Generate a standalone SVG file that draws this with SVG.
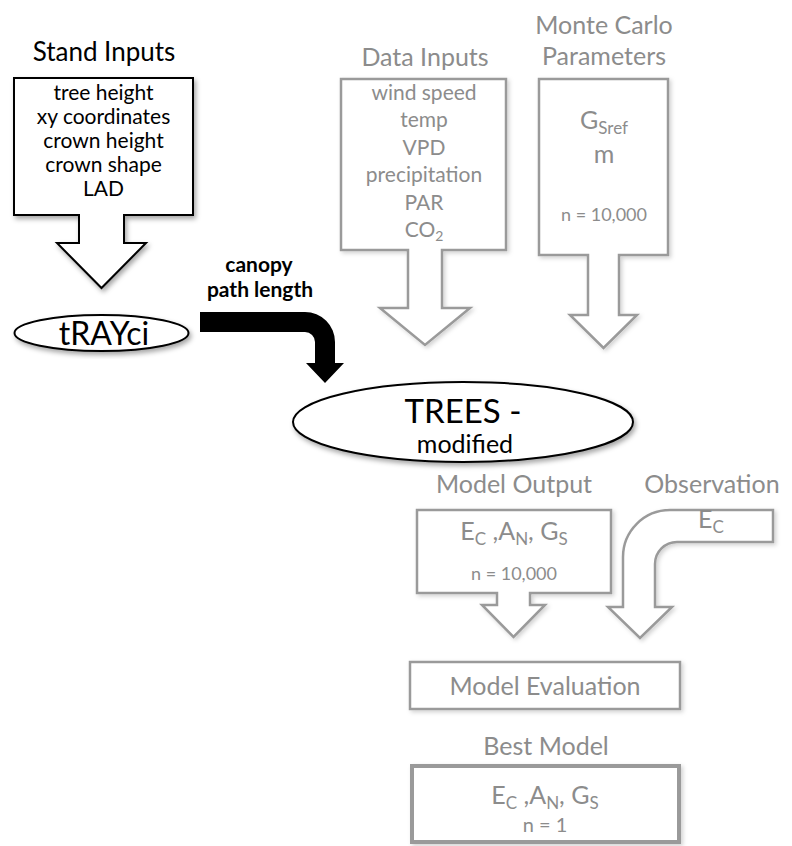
<svg xmlns="http://www.w3.org/2000/svg" width="792" height="846" viewBox="0 0 792 846">
<defs>
<filter id="sh" x="-10%" y="-10%" width="130%" height="130%">
<feDropShadow dx="2" dy="3" stdDeviation="2.5" flood-color="#000" flood-opacity="0.35"/>
</filter>
<filter id="shl" x="-10%" y="-10%" width="130%" height="130%">
<feDropShadow dx="2" dy="2" stdDeviation="2" flood-color="#000" flood-opacity="0.18"/>
</filter>
</defs>
<style>
text{font-family:Lato,"Liberation Sans",sans-serif;text-anchor:middle}
.blk{fill:#fff;stroke:#000;stroke-width:2}
.gry{fill:#fff;stroke:#9a9a9a;stroke-width:2.5}
.tb{fill:#000}
.tg{fill:#8c8c8c}
.title{font-size:25px}
.item{font-size:21px}
.small{font-size:18px}
</style>
<rect width="792" height="846" fill="#fff"/>

<g id="connectors">
<path d="M200,312 H305 A30,30 0 0 1 335,342 V363 H344 L325,383 L306,363 H315 V342 A10,10 0 0 0 305,332 H200 Z" fill="#000"/>
<text class="tb" x="259" y="272" font-size="21" font-weight="bold">canopy</text>
<text class="tb" x="260" y="297" font-size="21" font-weight="bold">path length</text>
</g>

<g id="stand-inputs">
<text class="tb title" x="104" y="61" style="font-size:26px">Stand Inputs</text>
<path class="blk" filter="url(#sh)" d="M14,78 H193 V215 H124 V243 H146 L101.5,288 L57,243 H79 V215 H14 Z"/>
<text class="tb item" x="103.5" y="100">tree height</text>
<text class="tb item" x="103.5" y="124">xy coordinates</text>
<text class="tb item" x="103.5" y="148">crown height</text>
<text class="tb item" x="103.5" y="172">crown shape</text>
<text class="tb item" x="103.5" y="196">LAD</text>
</g>

<g id="trayci">
<ellipse class="blk" filter="url(#sh)" cx="101.5" cy="333" rx="87" ry="18"/>
<text class="tb" x="104" y="345" font-size="32">tRAYci</text>
</g>

<g id="data-inputs">
<text class="tg title" x="425" y="66">Data Inputs</text>
<path class="gry" filter="url(#shl)" d="M341,79 H506 V250 H442 V308 H470 L425,345 L380,308 H408 V250 H341 Z"/>
<text class="tg item" x="424" y="100">wind speed</text>
<text class="tg item" x="424" y="127">temp</text>
<text class="tg item" x="424" y="155">VPD</text>
<text class="tg item" x="424" y="182">precipitation</text>
<text class="tg item" x="424" y="210">PAR</text>
<text class="tg item" x="424" y="237">CO<tspan font-size="14" dy="4">2</tspan></text>
</g>

<g id="monte-carlo">
<text class="tg title" x="604" y="34">Monte Carlo</text>
<text class="tg title" x="604" y="65">Parameters</text>
<path class="gry" filter="url(#shl)" d="M539,79 H668 V255 H619 V315 H637 L603.5,348 L570,315 H588 V255 H539 Z"/>
<text class="tg title" x="604" y="129">G<tspan font-size="17" dy="5">Sref</tspan></text>
<text class="tg title" x="604" y="163">m</text>
<text class="tg small" x="604" y="221">n = 10,000</text>
</g>

<g id="trees">
<ellipse class="blk" filter="url(#sh)" cx="463" cy="422" rx="170" ry="40"/>
<text class="tb" x="463" y="423" font-size="33">TREES -</text>
<text class="tb" x="465" y="453" font-size="25">modified</text>
</g>

<g id="model-output">
<text class="tg title" x="514" y="493">Model Output</text>
<path class="gry" filter="url(#shl)" d="M417,510 H611 V593 H530 V605 H545 L513.5,637 L482,605 H497 V593 H417 Z"/>
<text class="tg title" x="514" y="540">E<tspan font-size="17" dy="5">C</tspan><tspan dy="-5"> ,A</tspan><tspan font-size="17" dy="5">N</tspan><tspan dy="-5">, G</tspan><tspan font-size="17" dy="5">S</tspan></text>
<text class="tg small" x="514" y="580">n = 10,000</text>
</g>

<g id="observation">
<text class="tg title" x="712" y="493">Observation</text>
<path class="gry" filter="url(#shl)" d="M773,510 H670 A47,47 0 0 0 623,557 V607 H608 L640,638 L672,607 H655 V564 A22,22 0 0 1 677,542 H773 Z"/>
<text class="tg title" x="698" y="528" style="text-anchor:start">E<tspan font-size="17" dy="5">C</tspan></text>
</g>

<g id="model-evaluation">
<rect class="gry" filter="url(#shl)" x="410" y="662" width="270" height="47"/>
<text class="tg title" x="545" y="695">Model Evaluation</text>
</g>

<g id="best-model">
<text class="tg title" x="546" y="755">Best Model</text>
<rect class="gry" filter="url(#shl)" x="412" y="766" width="267" height="76" style="stroke-width:4"/>
<text class="tg title" x="545" y="804">E<tspan font-size="17" dy="5">C</tspan><tspan dy="-5"> ,A</tspan><tspan font-size="17" dy="5">N</tspan><tspan dy="-5">, G</tspan><tspan font-size="17" dy="5">S</tspan></text>
<text class="tg" x="545" y="832" font-size="20">n = 1</text>
</g>
</svg>
